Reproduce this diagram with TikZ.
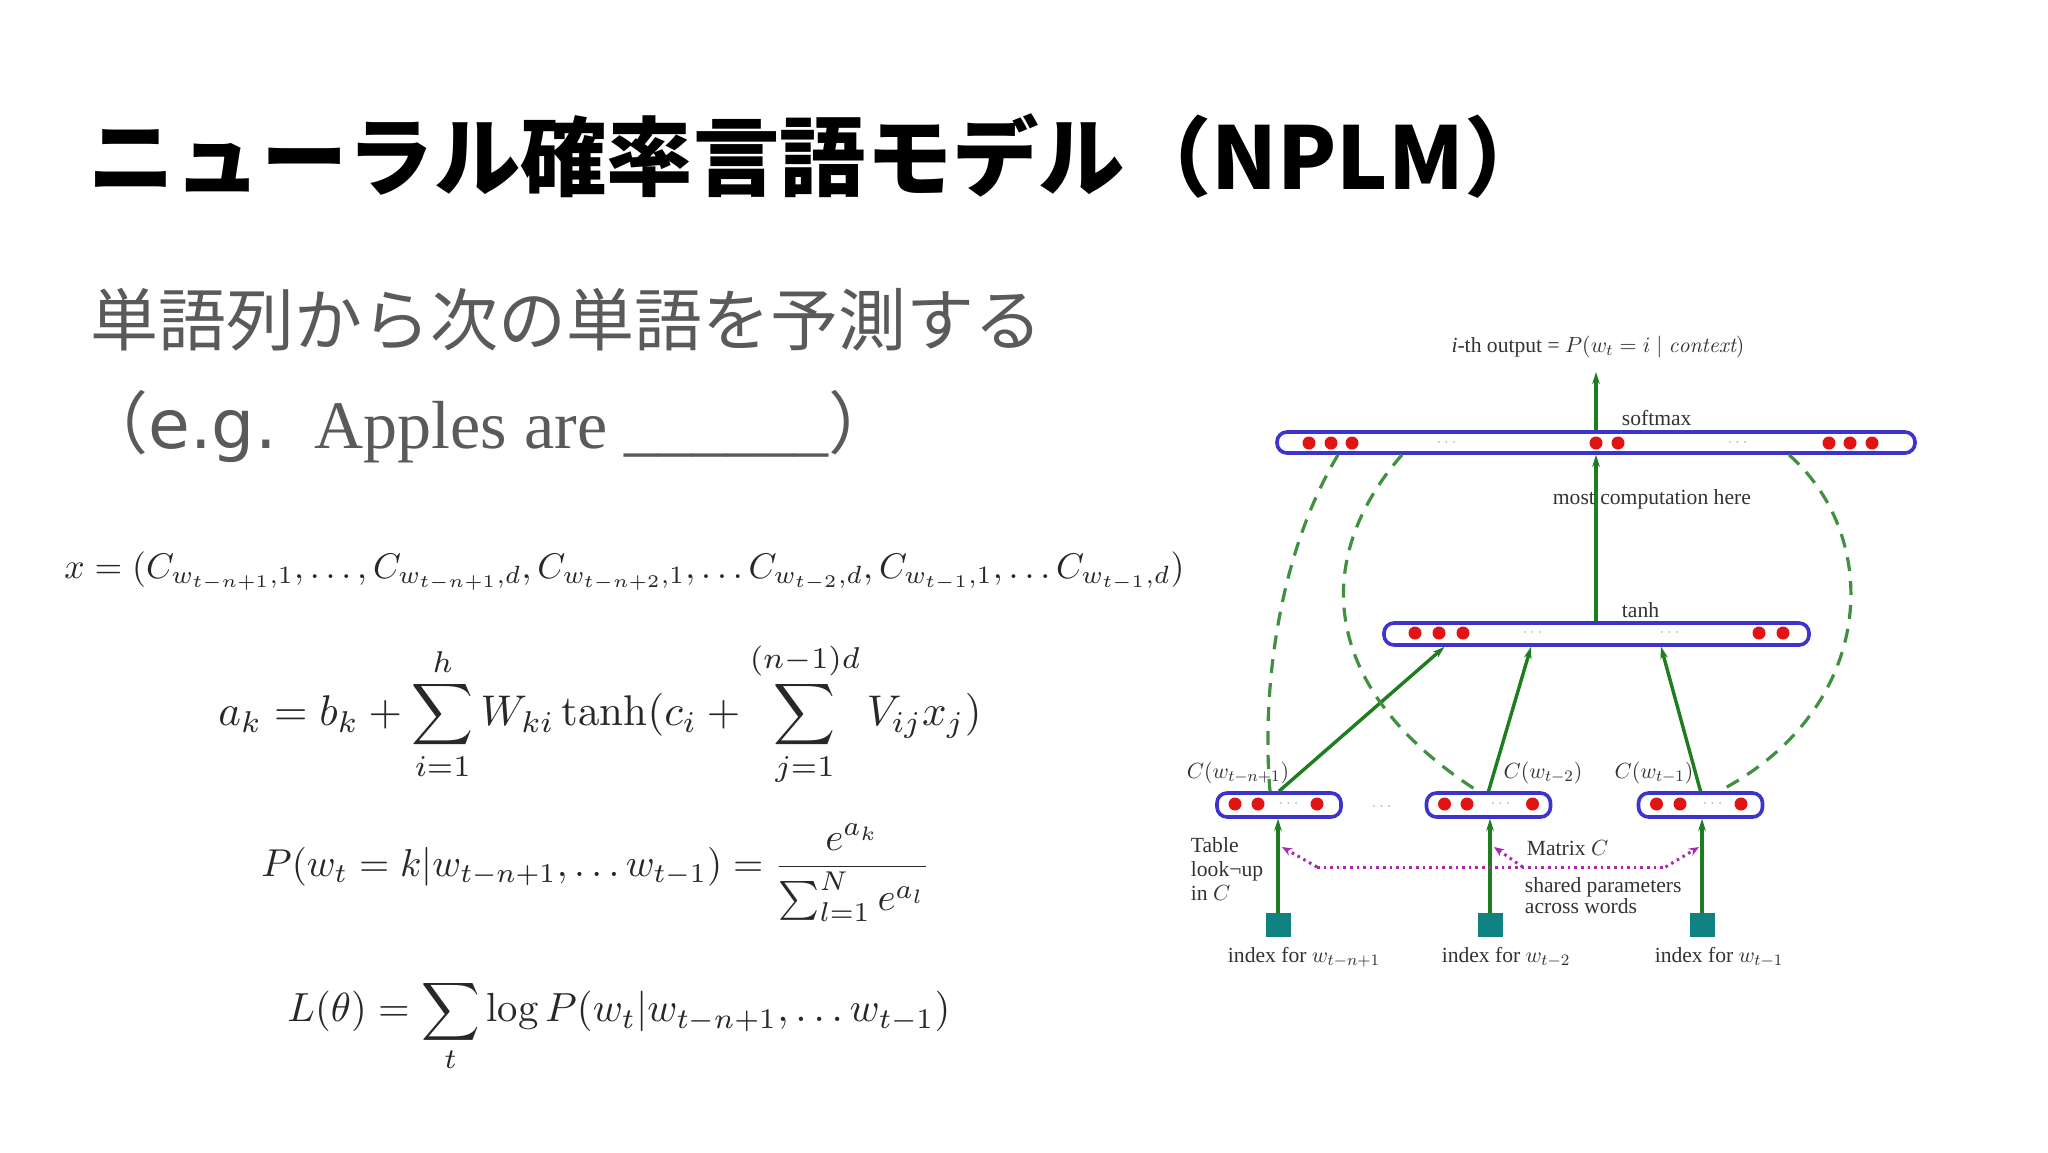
\documentclass[tikz,border=0pt]{standalone}
\usepackage{fontspec}
\usepackage{amsmath}
\usepackage{graphicx}
\usetikzlibrary{arrows.meta}
\newfontfamily\jpfont{Noto Sans CJK JP}
\newfontfamily\seriffont{Liberation Serif}
\newfontfamily\widesans{DejaVu Sans}
\definecolor{barblue}{RGB}{62,52,205}
\definecolor{dotred}{RGB}{225,20,20}
\definecolor{lngreen}{RGB}{30,125,30}
\definecolor{sqteal}{RGB}{16,130,130}
\definecolor{shpurple}{RGB}{170,40,170}
\definecolor{subgray}{RGB}{90,90,90}
\definecolor{eqgray}{RGB}{40,40,40}

\begin{document}
\begin{tikzpicture}[x=0.5pt,y=0.5pt,yscale=-1,xscale=1,
  layerbar/.style={draw=barblue,line width=1.8pt,rounded corners=5pt,fill=white,inner sep=0pt},
  unitdot/.style={circle,fill=dotred,inner sep=0pt,minimum size=6.5pt},
  ellip/.style={text=black!30,font=\fontsize{8}{8}\selectfont,inner sep=0pt},
  flow/.style={draw=lngreen,line width=1.7pt,-{Stealth[length=6pt,width=3.8pt]}},
  direct/.style={draw=lngreen!85!white,line width=1.6pt,dash pattern=on 7pt off 5pt},
  dotline/.style={draw=shpurple,line width=1.5pt,dash pattern=on 1.3pt off 2pt},
  idxbox/.style={fill=sqteal,minimum width=12.5pt,minimum height=12pt,inner sep=0pt},
  lbl/.style={font=\seriffont\fontsize{10.8}{12}\selectfont,inner sep=0.75pt,text=black!80},
  eqn/.style={anchor=west,inner sep=0pt,text=eqgray},
]
\useasboundingbox (0,0) rectangle (2048,1152);
\fill[white] (0,0) rectangle (2048,1152);

% Title
\node[anchor=base west,inner sep=0pt,font=\jpfont\bfseries\fontsize{43.2}{50}\selectfont] (title) at (88,189) {ニューラル確率言語モデル（NPLM）};
% Text Node
\node[anchor=base west,inner sep=0pt,text=subgray,font=\jpfont\fontsize{34}{40}\selectfont] (task) at (90,345) {単語列から次の単語を予測する};
% Text Node
\node[anchor=base west,inner sep=0pt,text=subgray,font=\jpfont\fontsize{34}{40}\selectfont] (sample) at (80,448) {（{\widesans e.g.}\hspace{19pt}{\seriffont\fontsize{34}{38}\selectfont Apples are \_\_\_\_\_\_}）};

% Formulas
\node[eqn] (xvec) at (64,571) {\resizebox{560pt}{!}{$x = (C_{w_{t-n+1},1}, \ldots, C_{w_{t-n+1},d}, C_{w_{t-n+2},1}, \ldots C_{w_{t-2},d}, C_{w_{t-1},1}, \ldots C_{w_{t-1},d})$}};
\node[eqn] (akeq) at (218,714) {\resizebox{381.5pt}{!}{$\displaystyle a_k = b_k + \sum_{i=1}^{h} W_{ki}\tanh(c_i + \sum_{j=1}^{(n-1)d} V_{ij}x_j)$}};
\node[eqn] (peq) at (261,873) {\resizebox{334.5pt}{!}{$\displaystyle P(w_t = k | w_{t-n+1}, \ldots w_{t-1}) = \frac{e^{a_k}}{\sum_{l=1}^{N} e^{a_l}}$}};
\node[eqn] (leq) at (287,1026) {\resizebox{331.5pt}{!}{$\displaystyle L(\theta) = \sum_t \log P(w_t | w_{t-n+1}, \ldots w_{t-1})$}};

%Shape: layer bars
\node[layerbar,minimum width=319pt,minimum height=10.5pt] (softmax) at (1596,442.5) {};
\node[layerbar,minimum width=212.5pt,minimum height=11pt] (hidden) at (1596.5,634) {};
\node[layerbar,minimum width=62pt,minimum height=12pt] (embA) at (1279,805) {};
\node[layerbar,minimum width=62pt,minimum height=12pt] (embB) at (1488.5,805) {};
\node[layerbar,minimum width=62pt,minimum height=12pt] (embC) at (1700.5,805) {};

% units
\foreach \x [count=\i] in {1309,1331,1352,1596,1618,1829,1850,1872}
  \node[unitdot] (sm\i) at (\x,443) {};
\foreach \x [count=\i] in {1415,1439,1463,1759,1783}
  \node[unitdot] (hd\i) at (\x,633) {};
\foreach \x [count=\i] in {1235,1258,1317,1444.5,1467,1532.5,1656.5,1680,1741}
  \node[unitdot] (em\i) at (\x,804) {};
\foreach \x [count=\i] in {1448,1739}
  \node[ellip] (smdots\i) at (\x,443) {$\cdots$};
\foreach \x [count=\i] in {1534,1671}
  \node[ellip] (hddots\i) at (\x,633) {$\cdots$};
\foreach \x [count=\i] in {1290,1502,1714}
  \node[ellip] (emdots\i) at (\x,804) {$\cdots$};
\node[ellip] (gapdots) at (1383,807) {$\cdots$};

%Shape: index squares
\node[idxbox] (idxA) at (1278,925) {};
\node[idxbox] (idxB) at (1490,925) {};
\node[idxbox] (idxC) at (1702,925) {};

%Straight Lines
\coordinate (outtip) at (1596,372);
\draw[flow] (softmax.north) -- (outtip);
\draw[flow] (hidden.north -| softmax.south) -- (softmax.south);
\draw[flow] (embA.north) -- ([xshift=-76pt]hidden.south);
\draw[flow] (embB.north) -- ([xshift=-32.75pt]hidden.south);
\draw[flow] (embC.north) -- ([xshift=32.25pt]hidden.south);
\draw[flow] (idxA.north) -- (idxA.north |- embA.south);
\draw[flow] (idxB.north) -- (idxB.north |- embB.south);
\draw[flow] (idxC.north) -- (idxC.north |- embC.south);

% direct connections
\draw[direct] ([xshift=-129pt]softmax.south) .. controls (1275,560) and (1262,700) .. ([xshift=-4.5pt]embA.north);
\draw[direct] ([xshift=-97pt]softmax.south) .. controls (1310,560) and (1320,690) .. ([xshift=-5.25pt]embB.north);
\draw[direct] ([xshift=96.5pt]softmax.south) .. controls (1885,540) and (1875,710) .. ([xshift=9.25pt]embC.north);

% shared parameters
\coordinate (shL) at (1317,867);
\coordinate (shM) at (1522.7,867);
\coordinate (shR) at (1665.5,867);
\coordinate (luA) at (1282,847);
\coordinate (luB) at (1494,847);
\coordinate (luC) at (1699,847);
\draw[dotline] (shL) -- (shR);
\draw[dotline,-{Stealth[length=5pt,width=4pt]}] (shL) -- (luA);
\draw[dotline,-{Stealth[length=5pt,width=4pt]}] (shM) -- (luB);
\draw[dotline,-{Stealth[length=5pt,width=4pt]}] (shR) -- (luC);

% Text Node
\node[lbl] (output) at (1598,347) {\textit{i}-th output = $P(w_t = i \mid \mathit{context})$};
\node[lbl,anchor=west] (smlab) at (1620,418) {softmax};
\node[lbl,anchor=west] (mostlab) at (1551,499) {most computation here};
\node[lbl,anchor=west] (tanhlab) at (1620,610) {tanh};
\node[lbl] (cA) at (1238,773) {$C(w_{t-n+1})$};
\node[lbl] (cB) at (1543,773) {$C(w_{t-2})$};
\node[lbl] (cC) at (1654,773) {$C(w_{t-1})$};
\node[lbl,anchor=north west,align=left,font=\seriffont\fontsize{10.8}{12}\selectfont] (lookup) at (1189,836) {Table\\look¬up\\in $C$};
\node[lbl,anchor=west] (matlab) at (1525,848) {Matrix $C$};
\node[lbl,anchor=north west,align=left,font=\seriffont\fontsize{10.8}{10.5}\selectfont] (sharedlab) at (1523,876) {shared parameters\\across words};
\node[lbl] (idxlabA) at (1304,957) {index for $w_{t-n+1}$};
\node[lbl] (idxlabB) at (1506,957) {index for $w_{t-2}$};
\node[lbl] (idxlabC) at (1719,957) {index for $w_{t-1}$};

\end{tikzpicture}
\end{document}
